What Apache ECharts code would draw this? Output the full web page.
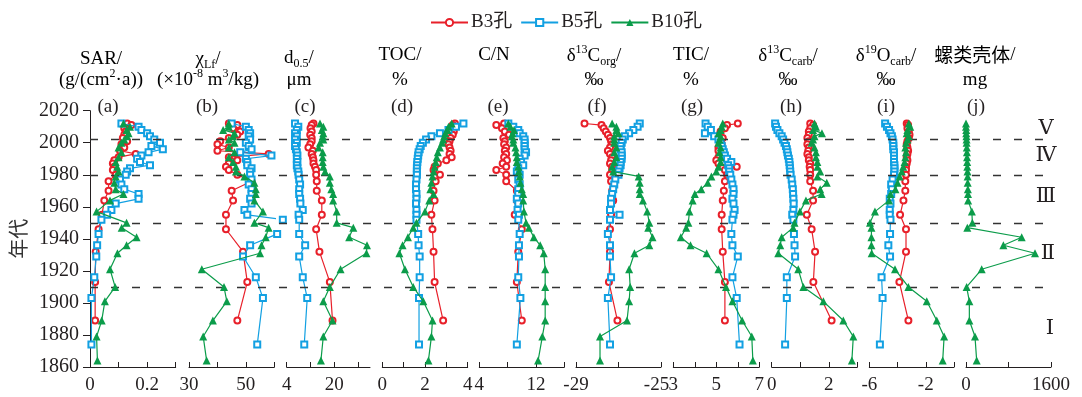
<!DOCTYPE html>
<html><head><meta charset="utf-8">
<script src="https://cdn.jsdelivr.net/npm/echarts@6/dist/echarts.min.js"></script>
<style>html,body{margin:0;padding:0;background:#fff}#c{width:1082px;height:397px}</style>
</head><body><div id="c"></div>
<script>
// ---------- sample years for each core ----------
const yearsB3 = [2012,2011,2009,2007,2005,2003,2001,1999,1997,1995,1993,1991,1989,1987,1985,1983,1980,1976,1970,1964,1955,1946,1932,1913,1889];
const yearsB5 = [2012,2010,2008,2006,2004,2002,2000,1998,1996,1994,1992,1990,1988,1986,1984,1982,1980,1977,1974,1971,1968,1965,1962,1958,1955,1952,1943,1936,1929,1916,1903,1874];
const yearsB10 = [2012,2010,2008,2006,2004,2002,2000,1997,1994,1991,1988,1985,1982,1979,1975,1971,1968,1964,1957,1950,1947,1941,1936,1931,1921,1910,1901,1889,1879,1864];

// (a) SAR
const sarB3 = [0.13,0.145,0.12,0.125,0.12,0.115,0.13,0.11,0.12,0.105,0.16,0.1,0.085,0.08,0.085,0.08,0.09,0.065,0.065,0.05,0.042,0.03,0.02,0.018,0.018];
const sarB5 = [0.11,0.17,0.18,0.2,0.21,0.225,0.245,0.215,0.255,0.205,0.18,0.165,0.175,0.21,0.14,0.13,0.125,0.105,0.11,0.12,0.17,0.17,0.09,0.075,0.06,0.04,0.03,0.025,0.022,0.015,0.005,0.005];
const sarB10 = [0.117,0.14,0.128,0.135,0.13,0.12,0.11,0.1,0.11,0.1,0.09,0.095,0.1,0.09,0.085,0.09,0.117,0.07,0.023,0.128,0.111,0.163,0.128,0.096,0.07,0.088,0.052,0.041,0.023,0.026];
// (b) chi_Lf
const chiB3 = [44,47,45.5,48,47,44,41,40,44,40,58,44,47,44,43,44,47,52,45,45.5,43,43,49,50.5,47];
const chiB5 = [45,50,51,51.5,51,51.5,50,51,52,48,59,50,50.5,50.5,52,51.5,51.5,52,51,52,52,51.5,52,49.5,50.5,63,61,51.5,49,53.5,56,54];
const chiB10 = [44,44,42,46,45.5,44,46,44,46,44,45.5,46.5,46.5,49.5,53,53.5,53.5,53,56,53,58,57,55.5,55,34.5,42.3,43.3,38.4,35,36.2];
// (c) d0.5
const d50B3 = [13,12.4,12,12.4,11.9,12.4,12.4,11.9,11.3,12.8,12.4,12.8,13,13,13.5,13.9,13.9,14.1,14.1,15.8,15.8,13.9,15,18.5,19.4];
const d50B5 = [6.8,7.9,7.4,6.8,7.4,6.8,7.4,6.8,7.1,7.4,7.6,7.4,7.6,7.4,7.6,7.9,8.0,8.2,8.5,8.2,8.2,8.5,8.6,9.4,8.0,8.2,8.2,10.2,8.2,9.4,10.9,9.9];
const d50B10 = [15.2,16.3,15.8,16.3,16.1,16.3,15.2,14.7,16.1,16.1,16.1,16.3,16.9,18.5,18.5,19.0,19.6,19.6,20.8,20.8,26.4,25,31,30.8,22.1,18.5,16.3,19.4,16.3,15.5];
// (d) TOC
const tocB3 = [3.4,3.3,3.3,3.35,3.3,3.2,3.15,3.1,3.15,3.2,3.15,3.25,3.0,2.6,2.45,2.4,2.7,2.5,2.4,2.45,2.3,2.35,2.4,2.45,2.85];
const tocB5 = [3.8,3.45,3.1,2.7,2.3,2.05,1.9,1.8,1.75,1.7,1.68,1.66,1.64,1.63,1.62,1.62,1.62,1.6,1.58,1.58,1.6,1.6,1.58,1.6,1.6,1.6,1.68,1.7,1.75,1.75,1.72,1.72];
const tocB10 = [3.25,3.1,3.05,2.95,2.9,2.85,2.8,2.7,2.6,2.55,2.5,2.45,2.4,2.35,2.3,2.25,2.4,2.2,2.0,1.6,1.45,1.2,0.95,0.8,1.06,1.45,1.92,2.35,2.3,2.16];
// (e) C/N
const cnB3 = [7.5,6.4,7.2,7.6,8.2,7.4,7.6,7.5,7.8,7.6,7.8,7.5,7.9,7.3,7.8,6.4,7.8,7.8,9.3,9.3,9.0,10.0,9.5,9.3,10.0];
const cnB5 = [8.1,8.8,9.5,9.7,10.2,10.4,10.4,10.4,10.4,10.6,10.4,9.7,9.9,10.2,9.5,9.3,9.7,9.5,9.7,9.5,9.5,9.3,9.5,9.4,9.6,9.5,9.7,9.6,9.6,9.5,9.8,9.3];
const cnB10 = [8.1,8.4,8.9,8.7,8.6,8.8,8.8,9.1,9.2,9.3,9.3,9.5,9.6,9.7,9.8,10.0,10.2,10.2,10.3,10.6,11.0,11.7,12.6,13.1,13.3,13.3,13.3,13.3,12.9,12.3];
// (f) d13C org
const corgB3 = [-28.6,-27.8,-27.7,-27.6,-27.5,-27.4,-27.35,-27.3,-27.4,-27.5,-27.4,-27.3,-27.35,-27.4,-27.3,-27.3,-27.4,-27.35,-27.3,-27.25,-27.35,-27.4,-27.4,-27.45,-27.05];
const corgB5 = [-26.0,-26.1,-26.3,-26.5,-26.7,-26.8,-26.85,-26.9,-26.9,-26.85,-26.85,-26.85,-26.9,-26.9,-26.95,-27.0,-27.0,-27.15,-27.2,-27.25,-27.3,-27.35,-27.35,-27.4,-26.95,-27.4,-27.5,-27.4,-27.4,-27.35,-27.5,-27.4];
const corgB10 = [-27.3,-27.1,-27.1,-27.0,-27.2,-27.2,-27.2,-27.1,-27.2,-27.1,-27.2,-27.3,-27.25,-26.05,-26.0,-26.0,-26.0,-25.85,-25.65,-25.55,-25.6,-25.4,-25.55,-26.25,-26.5,-26.45,-26.5,-26.6,-27.87,-27.87];
// (g) TIC
const ticB3 = [6.0,5.5,5.4,5.2,5.15,5.3,5.2,5.25,5.1,5.1,5.3,5.1,5.0,5.1,5.95,5.4,5.5,5.4,5.35,5.3,5.25,5.25,5.3,5.4,5.4];
const ticB5 = [4.5,4.6,4.75,4.47,4.9,5.1,5.2,5.25,5.3,5.35,5.4,5.5,5.7,5.55,5.6,5.6,5.65,5.7,5.75,5.8,5.8,5.75,5.8,5.85,5.8,5.75,5.7,5.75,6.0,5.75,5.95,6.08];
const ticB10 = [5.3,5.25,5.2,5.1,5.2,5.15,5.1,5.2,5.15,5.2,5.2,5.1,5.0,4.77,4.6,4.3,4.0,3.9,3.75,3.7,3.6,3.35,3.8,4.55,5.1,5.45,5.75,6.2,6.65,6.7];
// (h) d13C carb
const ccarbB3 = [1.35,1.45,1.35,1.3,1.3,1.25,1.3,1.25,1.3,1.28,1.25,1.3,1.3,1.35,1.33,1.35,1.35,1.35,1.45,1.45,1.23,1.4,1.52,1.46,2.1];
const ccarbB5 = [0.12,0.15,0.2,0.27,0.35,0.4,0.45,0.5,0.53,0.55,0.57,0.6,0.62,0.63,0.64,0.65,0.66,0.7,0.72,0.74,0.75,0.76,0.77,0.76,0.72,0.76,0.78,0.8,0.82,0.53,0.53,0.47];
const ccarbB10 = [1.5,1.55,1.45,1.76,1.5,1.45,1.4,1.5,1.55,1.55,1.6,1.6,1.7,1.6,1.93,1.7,1.75,1.2,0.99,0.8,0.75,0.35,0.3,0.23,0.93,1.11,1.81,2.51,2.86,2.81];
// (i) d18O carb
const ocarbB3 = [-3.35,-3.25,-3.3,-3.2,-3.15,-3.2,-3.3,-3.35,-3.3,-3.25,-3.3,-3.35,-3.3,-3.35,-3.4,-3.4,-3.4,-3.45,-3.45,-3.58,-3.82,-3.4,-3.4,-3.87,-3.23];
const ocarbB5 = [-4.88,-4.75,-4.6,-4.5,-4.4,-4.35,-4.3,-4.3,-4.3,-4.25,-4.25,-4.25,-4.25,-4.22,-4.22,-4.22,-4.25,-4.35,-4.45,-4.4,-4.45,-4.55,-4.5,-4.55,-4.55,-4.5,-4.53,-4.65,-4.53,-5.13,-5.06,-5.25];
const ocarbB10 = [-3.2,-3.1,-3.3,-3.35,-3.2,-3.3,-3.4,-3.45,-3.4,-3.45,-3.5,-3.6,-3.7,-3.85,-4.0,-4.15,-4.5,-4.6,-5.6,-5.95,-5.85,-5.85,-5.85,-5.83,-4.18,-3.23,-1.93,-1.22,-0.7,-0.8];
// (j) snail shells
const snailB10 = [0,0,5,5,8,10,12,15,18,20,22,25,28,30,32,35,38,40,110,120,25,1048,703,1299,295,12,63,63,169,201];

// ---------- axis ticks / labels ----------
const ticksA = [0,0.1,0.2,0.3],      labelsA = [0,0.2];
const ticksB = [30,40,50,60],        labelsB = [30,50];
const ticksC = [4,12,20,28],         labelsC = [4,20];
const ticksD = [0,1,2,3,4],          labelsD = [0,2,4];
const ticksE = [4,8,12,16],          labelsE = [4,12];
const ticksF = [-29,-27,-25],        labelsF = [-29,-25];
const ticksG = [3,4,5,6,7],          labelsG = [3,5,7];
const ticksH = [0,1,2,3],            labelsH = [0,2];
const ticksI = [-6,-4,-2,0],         labelsI = [-6,-2];
const ticksJ = [0,800,1600],         labelsJ = [0,1600];
const dividerYears = [2002,1980,1950,1910];
const stages = ['Ⅴ','Ⅳ','Ⅲ','Ⅱ','Ⅰ'];
const seriesNames = ['B3孔','B5孔','B10孔'];

// ---------- layout ----------
const SERIF = "'Liberation Serif','Times New Roman','Noto Sans CJK SC',serif";
const TOP = 110.7, BOTTOM = 367;
const panels = [
  {l:90,   r:175.7, min:0,   max:0.3,  t:ticksA, lb:labelsA, d:[sarB3,sarB5,sarB10]},
  {l:189,  r:274.3, min:30,  max:60,   t:ticksB, lb:labelsB, d:[chiB3,chiB5,chiB10]},
  {l:286.7,r:370,   min:4,   max:32,   t:ticksC, lb:labelsC, d:[d50B3,d50B5,d50B10]},
  {l:382.3,r:467.7, min:0,   max:4,    t:ticksD, lb:labelsD, d:[tocB3,tocB5,tocB10]},
  {l:479.3,r:564.3, min:4,   max:16,   t:ticksE, lb:labelsE, d:[cnB3,cnB5,cnB10]},
  {l:576,  r:661,   min:-29, max:-25,  t:ticksF, lb:labelsF, d:[corgB3,corgB5,corgB10], shiftMax:true},
  {l:673.3,r:759.3, min:3,   max:7,    t:ticksG, lb:labelsG, d:[ticB3,ticB5,ticB10]},
  {l:771.7,r:857.3, min:0,   max:3,    t:ticksH, lb:labelsH, d:[ccarbB3,ccarbB5,ccarbB10]},
  {l:869.3,r:954,   min:-6,  max:0,    t:ticksI, lb:labelsI, d:[ocarbB3,ocarbB5,ocarbB10]},
  {l:966,  r:1051,  min:0,   max:1600, t:ticksJ, lb:labelsJ, d:[null,null,snailB10]}
];
const yearSets = [yearsB3, yearsB5, yearsB10];
const looks = [
  {color:'#E8202A', symbol:'emptyCircle', size:6, bw:2.2},
  {color:'#12A0E2', symbol:'emptyRect',   size:6, bw:2.2},
  {color:'#0B9C4A', symbol:'triangle',    size:8, bw:0}
];

const grids = [], xAxes = [], yAxes = [], series = [];
panels.forEach((p, i) => {
  grids.push({left:p.l, top:TOP, width:p.r - p.l, height:BOTTOM - TOP, outerBoundsMode:'none', containLabel:false});
  xAxes.push({
    gridIndex:i, type:'value', min:p.min, max:p.max, position:'bottom',
    axisLine:{show:true, onZero:false, lineStyle:{color:'#231f20', width:1}},
    axisTick:{show:true, inside:true, length:5, customValues:p.t, lineStyle:{color:'#231f20', width:1}},
    axisLabel:{show:true, customValues:p.lb, fontSize:19, fontFamily:SERIF, color:'#231f20', margin:9,
               hideOverlap:false,
               formatter:v => (p.shiftMax && v === p.max) ? '{s|' + v + '}' : String(v),
               rich:{s:{fontSize:19, fontFamily:SERIF, color:'#231f20', padding:[0,9,0,0]}}},
    splitLine:{show:false}
  });
  const y = {gridIndex:i, type:'value', min:1860, max:2020, interval:20, splitLine:{show:false}};
  if (i === 0) {
    Object.assign(y, {
      axisLine:{show:true, lineStyle:{color:'#231f20', width:1}},
      axisTick:{show:true, inside:false, length:7, lineStyle:{color:'#231f20'}},
      axisLabel:{fontSize:20, fontFamily:SERIF, color:'#231f20', margin:11, formatter:v => String(v)},
      name:'年代', nameLocation:'middle', nameRotate:90, nameGap:62,
      nameTextStyle:{fontSize:20, fontFamily:"'Noto Sans CJK SC',sans-serif", color:'#333', fontWeight:'normal'}
    });
  } else {
    Object.assign(y, {axisLine:{show:false}, axisTick:{show:false}, axisLabel:{show:false}});
  }
  yAxes.push(y);
  p.d.forEach((vals, k) => {
    if (!vals) return;
    const yrs = yearSets[k];
    const lk = looks[k];
    series.push({
      name: seriesNames[k], type:'line', xAxisIndex:i, yAxisIndex:i,
      data: vals.map((v, j) => [v, yrs[j]]),
      symbol: lk.symbol, symbolSize: lk.size, showSymbol:true, clip:false,
      lineStyle:{color:lk.color, width:1.2},
      itemStyle:{color:lk.color, borderColor:lk.color, borderWidth:lk.bw},
      animation:false, z: 3 + k
    });
  });
});

// overlay grid for dashed stage boundaries
const OV = panels.length;
grids.push({left:90, top:TOP, width:962, height:BOTTOM - TOP, outerBoundsMode:'none', containLabel:false});
xAxes.push({gridIndex:OV, type:'value', min:0, max:1, show:false});
yAxes.push({gridIndex:OV, type:'value', min:1860, max:2020, show:false});
series.push({
  type:'line', xAxisIndex:OV, yAxisIndex:OV, data:[[0,1860]], showSymbol:false, silent:true,
  lineStyle:{width:0}, animation:false, z:1,
  markLine:{silent:true, symbol:'none', animation:false, label:{show:false},
    lineStyle:{type:[8,13], color:'#333', width:1.4},
    data: dividerYears.map(v => ({yAxis:v}))}
});

// titles
const rich = {
  n:{fontSize:19, fontFamily:SERIF, color:'#231f20', lineHeight:24},
  sup:{fontSize:12, fontFamily:SERIF, color:'#231f20', verticalAlign:'top', lineHeight:24},
  sub:{fontSize:12, fontFamily:SERIF, color:'#231f20', verticalAlign:'bottom', lineHeight:20},
  cn:{fontSize:19, fontFamily:"'Noto Sans CJK SC',sans-serif", color:'#333', lineHeight:24}
};
const titles = [
  {x:101, y1:59, l1:'{n|SAR/}', l2:'{n|(g/(cm}{sup|2}{n|·a))}'},
  {x:208, y1:59, l1:'{n|χ}{sub|Lf}{n|/}', l2:'{n|(×10}{sup|-8}{n| m}{sup|3}{n|/kg)}'},
  {x:299, y1:58, l1:'{n|d}{sub|0.5}{n|/}', l2:'{n|μm}'},
  {x:400, y1:55, l1:'{n|TOC/}', l2:'{n|%}'},
  {x:494, y1:55, l1:'{n|C/N}', l2:''},
  {x:594, y1:56, l1:'{n|δ}{sup|13}{n|C}{sub|org}{n|/}', l2:'{n|‰}'},
  {x:691, y1:55, l1:'{n|TIC/}', l2:'{n|%}'},
  {x:788, y1:56, l1:'{n|δ}{sup|13}{n|C}{sub|carb}{n|/}', l2:'{n|‰}'},
  {x:886, y1:56, l1:'{n|δ}{sup|19}{n|O}{sub|carb}{n|/}', l2:'{n|‰}'},
  {x:975, y1:55, l1:'{cn|螺类壳体}{n|/}', l2:'{n|mg}'}
];
const letters = ['(a)','(b)','(c)','(d)','(e)','(f)','(g)','(h)','(i)','(j)'];
const letterX = [108,207,305,402,498,597,692,791,886,976];
const graphics = [];
titles.forEach(t => {
  graphics.push({type:'text', x:t.x, y:t.y1, style:{text:t.l1, rich, align:'center', verticalAlign:'middle'}, silent:true});
  if (t.l2) graphics.push({type:'text', x:t.x, y:80, style:{text:t.l2, rich, align:'center', verticalAlign:'middle'}, silent:true});
});
letters.forEach((s, i) => graphics.push({type:'text', x:letterX[i], y:107, silent:true,
  style:{text:s, fontSize:19, fontFamily:SERIF, fill:'#231f20', align:'center', verticalAlign:'middle'}}));
const stageXY = [[1046,128],[1046,155],[1046,196],[1048,253],[1050,328]];
stages.forEach((s, i) => graphics.push({type:'text', x:stageXY[i][0], y:stageXY[i][1], silent:true,
  style:{text:s, fontSize:21, fontFamily:"'Liberation Serif','DejaVu Serif',serif", fill:'#231f20', align:'center', verticalAlign:'middle'}}));

const chart = echarts.init(document.getElementById('c'), null, {renderer:'canvas'});
chart.setOption({
  animation:false,
  backgroundColor:'#fff',
  legend:{
    data:seriesNames, top:8, left:425, itemWidth:37, itemHeight:9, itemGap:8,
    textStyle:{fontSize:19, fontFamily:SERIF, color:'#231f20', padding:[0,0,0,-2]}
  },
  grid:grids, xAxis:xAxes, yAxis:yAxes, series:series, graphic:graphics
});
</script></body></html>
